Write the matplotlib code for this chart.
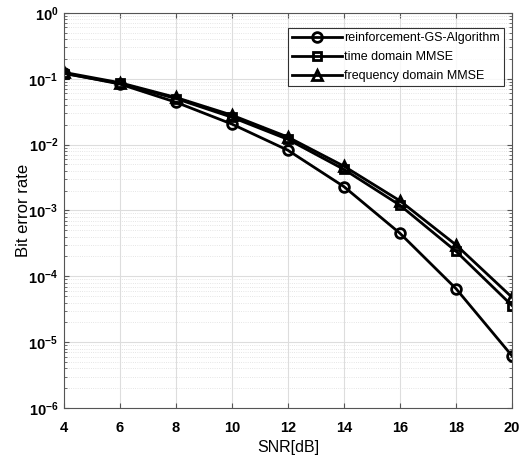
import matplotlib
matplotlib.use("Agg")
import matplotlib.pyplot as plt
import numpy as np

snr = [4, 6, 8, 10, 12, 14, 16, 18, 20]
ber_gs = [0.122, 0.083, 0.044, 0.0205, 0.0082, 0.0023, 4.5e-4, 6.5e-5, 6.2e-6]
ber_time = [0.12, 0.085, 0.05, 0.026, 0.012, 0.0042, 0.0012, 2.4e-4, 3.6e-5]
ber_freq = [0.125, 0.087, 0.052, 0.028, 0.013, 0.0047, 0.0014, 3.0e-4, 4.8e-5]
labels = ["reinforcement-GS-Algorithm", "time domain MMSE", "frequency domain MMSE"]

plt.rcParams['font.family'] = ['Liberation Sans', 'DejaVu Sans']

fig = plt.figure(figsize=(5.23, 4.59), dpi=100)
ax = fig.add_axes([0.122, 0.111, 0.857, 0.861])

ax.semilogy(snr, ber_gs, '-o', color='black', lw=2, ms=7, mfc='none', mew=2, label=labels[0])
ax.semilogy(snr, ber_time, '-s', color='black', lw=2, ms=6, mfc='none', mew=2, label=labels[1])
ax.semilogy(snr, ber_freq, '-^', color='black', lw=2, ms=7, mfc='none', mew=2, label=labels[2])

ax.set_xlim(4, 20)
ax.set_ylim(1e-6, 1)
ax.set_xticks(snr)
ax.set_yticks([10.0**k for k in range(-6, 1)])
ax.grid(True, which='major', color='#dddddd', lw=0.8, ls='-')
ax.grid(True, which='minor', color='#dddddd', lw=0.6, ls=':')
ax.tick_params(which='both', direction='in', top=True, right=True, color='#555555')
ax.tick_params(axis='both', labelsize=10.5)
ax.tick_params(axis='x', pad=9)
ax.tick_params(axis='y', pad=4)
for lab in ax.get_xticklabels() + ax.get_yticklabels():
    lab.set_fontweight('bold')
for s in ax.spines.values():
    s.set_color('#555555')
    s.set_linewidth(0.8)

ax.set_xlabel('SNR[dB]', fontsize=11.5)
ax.set_ylabel('Bit error rate', fontsize=12)
ax.xaxis.set_label_coords(0.5, -0.082)
ax.yaxis.set_label_coords(-0.074, 0.5)

leg = ax.legend(loc='upper right', fontsize=9, frameon=True, fancybox=False,
                edgecolor='black', handlelength=4.0, borderpad=0.35, labelspacing=0.55,
                handletextpad=0.2, bbox_to_anchor=(0.997, 0.978))
leg.get_frame().set_linewidth(0.8)

fig.savefig('out.png', dpi=100)
